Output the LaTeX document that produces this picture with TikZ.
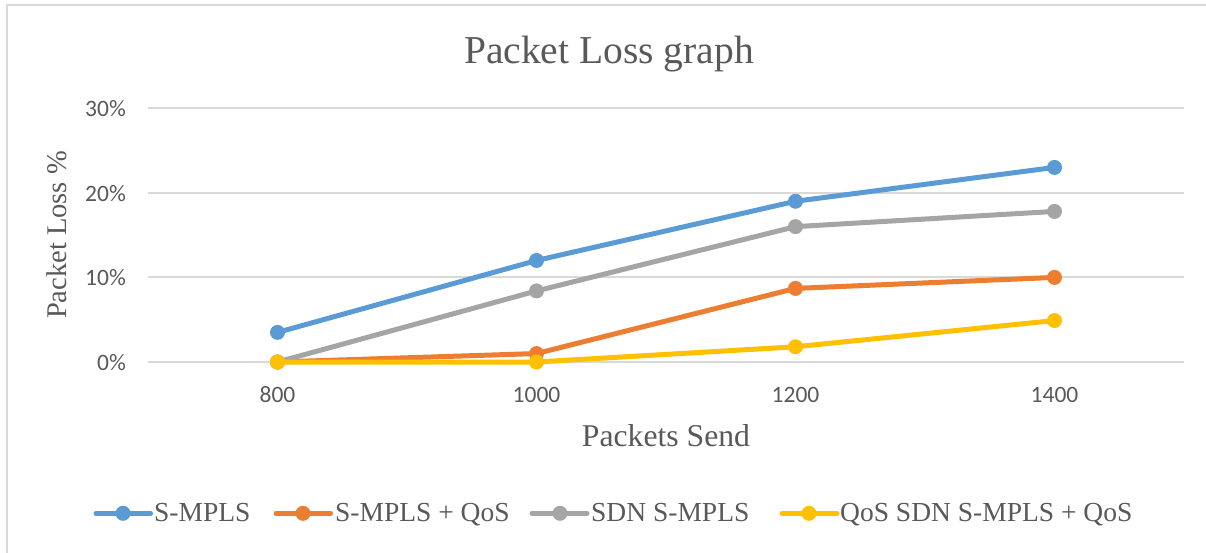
\documentclass[tikz,border=0pt]{standalone}
\usepackage{fontspec}
\setmainfont{Liberation Serif}
\newfontfamily\tickfont{Carlito}
\definecolor{txtgray}{HTML}{595959}
\definecolor{gridgray}{HTML}{D9D9D9}
\definecolor{sblue}{HTML}{5B9BD5}
\definecolor{sorange}{HTML}{ED7D31}
\definecolor{sgray}{HTML}{A5A5A5}
\definecolor{syellow}{HTML}{FFC000}
\tikzset{
  gridline/.style={draw=gridgray, line width=2pt},
  frameline/.style={draw=gridgray, line width=1.6pt},
  series/.style={line width=5pt, line join=round, line cap=round},
  dot/.style={circle, inner sep=0pt, minimum size=15pt, fill=#1},
  ticklbl/.style={text=txtgray, font=\tickfont\fontsize{23.5}{26}\selectfont, inner sep=0pt},
  axislbl/.style={text=txtgray, inner sep=0pt},
  legendtxt/.style={text=txtgray, font=\fontsize{27.5}{30}\selectfont, inner sep=0pt, anchor=base west},
}
\begin{document}
\begin{tikzpicture}[x=1pt, y=-1pt]
\useasboundingbox (0,0) rectangle (1206,552);
% chart frame
\draw[frameline] (7,570) -- (7,5) -- (1220,5);

% horizontal grid and y tick labels
\foreach \v/\lbl in {0/0\%,10/10\%,20/20\%,30/30\%}{
  \draw[gridline] (148,{362-8.46*\v}) -- (1184,{362-8.46*\v});
  \node[ticklbl, anchor=base east] (ytick\v) at (126,{362-8.46*\v+8.5}) {\lbl};
}

% x tick labels
\foreach \c/\lbl in {277.5/800,536.5/1000,795.5/1200,1054.5/1400}{
  \node[ticklbl, anchor=base] (xtick\lbl) at (\c,402) {\lbl};
}

% titles
\node[axislbl, anchor=base, font=\fontsize{39.5}{43}\selectfont] (title) at (609,63.3) {Packet Loss graph};
\node[axislbl, anchor=base, font=\fontsize{31.7}{34}\selectfont] (xtitle) at (666,446.7) {Packets Send};
\node[axislbl, anchor=base, rotate=90, font=\fontsize{28.5}{31}\selectfont] (ytitle) at (66.5,235) {Packet Loss \%};

% data points
\foreach \n/\a/\b/\c/\d in {bl/3.5/12/19/23, or/0/1/8.7/10, gr/0/8.4/16/17.8, ye/0/0/1.8/4.9}{
  \coordinate (\n1) at (277.5,{362-8.46*\a});
  \coordinate (\n2) at (536.5,{362-8.46*\b});
  \coordinate (\n3) at (795.5,{362-8.46*\c});
  \coordinate (\n4) at (1054.5,{362-8.46*\d});
}

% series
\foreach \n/\col in {bl/sblue, or/sorange, gr/sgray, ye/syellow}{
  \draw[series, draw=\col] (\n1) -- (\n2) -- (\n3) -- (\n4);
  \foreach \i in {1,2,3,4}{
    \node[dot=\col] (m\n\i) at (\n\i) {};
  }
}

% legend
\foreach \n/\col/\xa/\xm/\xb/\xt/\lbl in {
  bl/sblue/96/123/150.5/154/{S-MPLS},
  or/sorange/276/303/330.5/335/{S-MPLS + QoS},
  gr/sgray/532/560/587/591/{SDN S-MPLS},
  ye/syellow/782/809/837/840/{QoS SDN S-MPLS + QoS}}{
  \coordinate (la\n) at (\xa,513.3);
  \coordinate (lb\n) at (\xb,513.3);
  \draw[line width=5pt, line cap=round, draw=\col] (la\n) -- (lb\n);
  \node[dot=\col] (lm\n) at (\xm,513.3) {};
  \node[legendtxt] (lt\n) at (\xt,521.7) {\lbl};
}
\end{tikzpicture}
\end{document}
